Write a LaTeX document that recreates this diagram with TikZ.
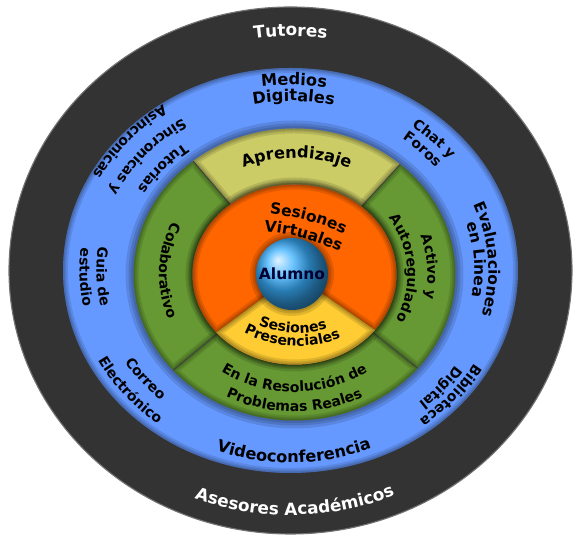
\documentclass[tikz,border=0pt]{standalone}
\usepackage{fontspec}
\setmainfont{DejaVu Sans}
\newfontfamily\ringfam{DejaVu Sans}
\newcommand\ringfont{\ringfam\bfseries\fontsize{10}{12}\selectfont}
\newcommand\midringfont{\ringfam\bfseries\fontsize{11}{13}\selectfont}
\newcommand\bigringfont{\ringfam\bfseries\fontsize{11.5}{13}\selectfont}
\newcommand\bandfont{\ringfam\bfseries\fontsize{12}{14}\selectfont}
\usetikzlibrary{decorations.text}

\definecolor{bandgray}{HTML}{333333}
\definecolor{ringblue}{HTML}{6699FF}
\definecolor{leafgreen}{HTML}{669933}
\definecolor{khaki}{HTML}{CCCC66}
\definecolor{virtorange}{HTML}{FF6600}
\definecolor{presyellow}{HTML}{FFCC33}
\definecolor{ballblue}{HTML}{3AB0FF}

% band between two ellipses, from angle #1 to #2 (inner radii #3,#4; outer #5,#6)
\newcommand\ringsector[6]{(#1:#5 and #6) arc[start angle=#1, end angle=#2, x radius=#5, y radius=#6]
  -- (#2:#3 and #4) arc[start angle=#2, end angle=#1, x radius=#3, y radius=#4] -- cycle}

% soft dark rim inside a region
\newcommand\rimshade[1]{%
  \begin{scope}
    \clip #1;
    \foreach \w in {10,6,3}
      \draw[black, opacity=0.11, line width=\w*0.025cm] #1;
  \end{scope}}

\begin{document}
\begin{tikzpicture}[
  x=0.025cm, y=0.025cm,
  tx/.style={decorate, decoration={text along path, text align=center, text={|\ringfont|#1}}},
  txm/.style={decorate, decoration={text along path, text align=center, text={|\midringfont|#1}}},
  txl/.style={decorate, decoration={text along path, text align=center, text={|\bigringfont|#1}}},
  txw/.style={decorate, decoration={text along path, text align=center, text color=white, text={|\bandfont|#1}}},
  glow/.style={black, opacity=0.12, line width=#1*0.025cm},
  divider/.style={draw=black!75, line width=0.5pt},
  ]
  \useasboundingbox (0,0) rectangle (574,536);
  \coordinate (O) at (290.5,265.5);
  \coordinate (I) at (294.5,261.5);
  \coordinate (S) at (292,262);
  \coordinate (V) at (245.5,83.4);
  \coordinate (P) at (298,308);

  % outer bands
  \fill[bandgray] (O) ellipse[x radius=281.5, y radius=263.5];
  \draw[black!55, line width=0.8pt] (O) ellipse[x radius=281.5, y radius=263.5];
  \fill[ringblue] (O) ellipse[x radius=227.5, y radius=202.5];
  \rimshade{(O) ellipse[x radius=227.5, y radius=202.5]}
  \foreach \w in {16,10,5}
    \draw[glow=\w] (I) ellipse[x radius=161, y radius=146];

  % green ring
  \begin{scope}[shift={(I)}]
    \fill[khaki] \ringsector{49}{129}{102}{90}{161}{146};
    \fill[leafgreen] \ringsector{129}{221}{102}{90}{161}{146};
    \fill[leafgreen] \ringsector{221}{320}{102}{90}{161}{146};
    \fill[leafgreen] \ringsector{-40}{49}{102}{90}{161}{146};
    \rimshade{\ringsector{49}{129}{102}{90}{161}{146}}
    \rimshade{\ringsector{129}{221}{102}{90}{161}{146}}
    \rimshade{\ringsector{221}{320}{102}{90}{161}{146}}
    \rimshade{\ringsector{-40}{49}{102}{90}{161}{146}}
    \foreach \a in {49,129,221,320}
      \draw[divider] (\a:102 and 90) -- (\a:161 and 146);
    \foreach \w in {14,8,4}
      \draw[glow=\w] (0,0) ellipse[x radius=102, y radius=90];

    % inner disc
    \fill[virtorange] (0,0) ellipse[x radius=102, y radius=90];
    \fill[presyellow] (220:102 and 90) arc[start angle=220, end angle=322, x radius=102, y radius=90] -- (0,0) -- cycle;
    \rimshade{(-38:102 and 90) arc[start angle=-38, end angle=220, x radius=102, y radius=90] -- (0,0) -- cycle}
    \rimshade{(220:102 and 90) arc[start angle=220, end angle=322, x radius=102, y radius=90] -- (0,0) -- cycle}
  \end{scope}

  \foreach \w in {12,7,3}
    \draw[glow=\w] (S) circle[radius=36];
  \shade[ball color=ballblue] (S) circle[radius=36];
  \node[font=\midringfont, text=black!80!blue] (alumno) at (S) {Alumno};

  % texts of the outer bands
  \begin{scope}[shift={(O)}]
    \path[txw=Tutores] (125:255 and 234.5) arc[start angle=125, end angle=55, x radius=255, y radius=234.5];
    \path[txw={Asesores Académicos}] (226:265 and 244.5) arc[start angle=226, end angle=316, x radius=265, y radius=244.5];
    \path[txl=Medios] (134:208 and 185.5) arc[start angle=134, end angle=44, x radius=208, y radius=185.5];
    \path[txl=Digitales] (134:190 and 169.5) arc[start angle=134, end angle=44, x radius=190, y radius=169.5];
    \path[tx={Chat y}] (89:202 and 180) arc[start angle=89, end angle=-1, x radius=202, y radius=180];
    \path[tx=Foros] (89:185 and 165) arc[start angle=89, end angle=-1, x radius=185, y radius=165];
    \path[txm=Evaluaciones] (48.5:198 and 175) arc[start angle=48.5, end angle=-41.5, x radius=198, y radius=175];
    \path[txm={en Linea}] (48.5:184 and 163) arc[start angle=48.5, end angle=-41.5, x radius=184, y radius=163];
    \path[tx=Biblioteca] (5.5:211 and 188) arc[start angle=5.5, end angle=-84.5, x radius=211, y radius=188];
    \path[tx=Digital] (5.5:196 and 175) arc[start angle=5.5, end angle=-84.5, x radius=196, y radius=175];
    \path[txl=Videoconferencia] (226:215 and 192) arc[start angle=226, end angle=316, x radius=215, y radius=192];
    \path[tx=Correo] (173.5:195 and 174) arc[start angle=173.5, end angle=263.5, x radius=195, y radius=174];
    \path[tx=Electrónico] (173.5:217 and 194) arc[start angle=173.5, end angle=263.5, x radius=217, y radius=194];
    \path[tx={Guia de}] (137:194 and 173) arc[start angle=137, end angle=227, x radius=194, y radius=173];
    \path[tx=estudio] (137:211 and 189) arc[start angle=137, end angle=227, x radius=211, y radius=189];
    \path[tx=Tutorias] (94.5:178 and 159) arc[start angle=94.5, end angle=184.5, x radius=178, y radius=159];
    \path[tx={Sincronicas y}] (94.5:202 and 180) arc[start angle=94.5, end angle=184.5, x radius=202, y radius=180];
    \path[tx=Asincronicas] (94.5:225 and 201) arc[start angle=94.5, end angle=184.5, x radius=225, y radius=201];
  \end{scope}

  % texts of the green ring
  \begin{scope}[shift={(I)}]
    \path[txl=Aprendizaje] (139:130 and 116.5) arc[start angle=139, end angle=39, x radius=130, y radius=116.5];
    \path[tx=Colaborativo] (128:135.5 and 122) arc[start angle=128, end angle=228, x radius=135.5, y radius=122];
    \path[tx={Activo y}] (53.5:133 and 120) arc[start angle=53.5, end angle=-46.5, x radius=133, y radius=120];
    \path[tx=Autoregulado] (58.5:113 and 102) arc[start angle=58.5, end angle=-51.5, x radius=113, y radius=102];
    \path[tx={En la Resolución de}] (190:130 and 117.5) arc[start angle=190, end angle=350, x radius=130, y radius=117.5];
    \path[tx={Problemas Reales}] (200:152 and 137) arc[start angle=200, end angle=340, x radius=152, y radius=137];
  \end{scope}

  % texts of the inner disc
  \begin{scope}[shift={(V)}]
    \path[txm=Sesiones] (95:240) arc[start angle=95, end angle=55, radius=240];
    \path[txm=Virtuales] (97:222) arc[start angle=97, end angle=53, radius=222];
  \end{scope}
  \begin{scope}[shift={(P)}]
    \path[tx=Sesiones] (222:105) arc[start angle=222, end angle=312, radius=105];
    \path[tx=Presenciales] (212:118) arc[start angle=212, end angle=322, radius=118];
  \end{scope}
\end{tikzpicture}
\end{document}
